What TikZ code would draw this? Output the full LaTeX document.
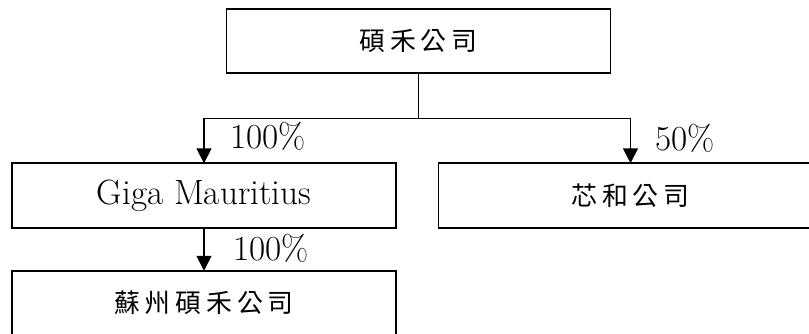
\documentclass[tikz,border=0pt]{standalone}
\usepackage{fontspec}
\newfontfamily\cjk[LetterSpace=19]{Noto Sans CJK TC}
\usepackage{tikz}
\usetikzlibrary{arrows.meta,positioning}
\tikzstyle{box}=[draw, line width=1pt, minimum width=7.68cm,
                 minimum height=1.29cm, inner sep=0pt, outer sep=0pt,
                 font=\fontsize{20}{24}\selectfont]
\tikzstyle{cn}=[font=\cjk\fontsize{14.7}{17}\selectfont]
\tikzstyle{edge}=[line width=1pt]
\tikzstyle{wedge}=[line width=1pt, -{Triangle[width=0.3cm,length=0.3cm]}]
\tikzstyle{pct}=[anchor=west, inner sep=0pt,
                 font=\fontsize{20}{24}\selectfont]

\begin{document}
\begin{tikzpicture}
    \useasboundingbox (0,0) rectangle (16.18,6.66);

    \draw (8.37,5.84) node (top) [box,cn] {碩禾公司};
    \draw (4.08,2.75) node (giga) [box] {Giga Mauritius};
    \draw (12.61,2.75) node (xinhe) [box,cn] {芯和公司};
    \draw (4.08,0.60) node (suzhou) [box,cn] {蘇州碩禾公司};

    \coordinate (split) at (8.37,4.29);
    \draw [edge] (top) to (split);
    \draw [wedge] (split) -| (giga);
    \draw [wedge] (split) -| (xinhe);
    \draw [wedge] (giga) to (suzhou);

    \draw (4.60,3.93) node (p1) [pct] {100\%};
    \draw (13.10,3.90) node (p3) [pct] {50\%};
    \draw (4.66,1.70) node (p2) [pct] {100\%};
\end{tikzpicture}
\end{document}
